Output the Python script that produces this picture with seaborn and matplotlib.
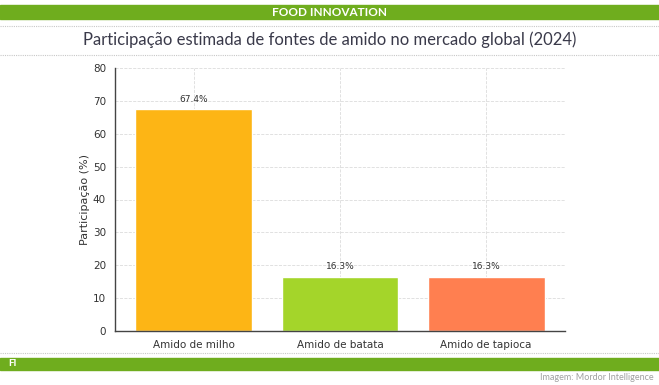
import pandas as pd
import seaborn as sns
import matplotlib.pyplot as plt
from matplotlib.patches import Rectangle
from matplotlib.lines import Line2D

# data
fontes = ["Amido de milho", "Amido de batata", "Amido de tapioca"]
participacao = [67.4, 16.3, 16.3]
cores = ["#FDB515", "#A4D52A", "#FF7F50"]

df = pd.DataFrame({"fonte": fontes, "participacao": participacao})

sns.set_style("white")
plt.rcParams["font.family"] = ["DejaVu Sans"]

fig = plt.figure(figsize=(6.59, 3.85), dpi=100)
W, H = 659, 385

def fy(y):
    return 1 - y / H

# page header / footer decoration
verde = "#6FAD1E"
fig.patches.append(Rectangle((0, fy(19)), 1, 14 / H, transform=fig.transFigure,
                             color=verde, zorder=0))
fig.text(0.5, fy(12), "FOOD INNOVATION", ha="center", va="center", color="white",
         fontsize=8.5, family=["Lato", "DejaVu Sans"], weight="bold")
fig.patches.append(Rectangle((0, fy(370)), 1, 12 / H, transform=fig.transFigure,
                             color=verde, zorder=0))
fig.text(8 / W, fy(364), "FI", ha="left", va="center", color="white",
         fontsize=7, family=["Lato", "DejaVu Sans"], weight="bold")
for y in [25.5, 54.5, 352.5]:
    fig.lines.append(Line2D([0, 1], [fy(y), fy(y)], transform=fig.transFigure,
                            color="#c8c8c8", lw=0.8, ls=(0, (1, 1))))
fig.text(0.5, fy(40), "Participação estimada de fontes de amido no mercado global (2024)",
         ha="center", va="center", color="#3a3a4a", fontsize=12,
         family=["Lato", "DejaVu Sans"])
fig.text(654 / W, fy(378), "Imagem: Mordor Intelligence", ha="right", va="center",
         color="#a0a0a0", fontsize=6.5, family=["Lato", "DejaVu Sans"])

# chart area
ax = fig.add_axes([115 / W, fy(331), 450 / W, 263 / H])
sns.barplot(data=df, x="fonte", y="participacao", hue="fonte", palette=cores,
            legend=False, width=0.8, saturation=1, ax=ax, zorder=2)

for i, v in enumerate(participacao):
    ax.text(i, v + 1.8, f"{v}%", ha="center", va="bottom", fontsize=6.5,
            color="#333333", family="DejaVu Sans")

ax.set_ylim(0, 80)
ax.set_xlim(-0.54, 2.54)
ax.set_xlabel("")
ax.set_ylabel("Participação (%)", fontsize=8, color="#333333", family="DejaVu Sans",
              labelpad=2)
ax.tick_params(axis="both", labelsize=7.5, colors="#333333", length=3, width=0.8)
for lab in ax.get_xticklabels() + ax.get_yticklabels():
    lab.set_family("DejaVu Sans")
ax.grid(True, ls="--", color="#dcdcdc", lw=0.6, zorder=0)
ax.set_axisbelow(True)
for s in ["top", "right"]:
    ax.spines[s].set_visible(False)
for s in ["left", "bottom"]:
    ax.spines[s].set_color("#444444")
    ax.spines[s].set_linewidth(1.0)

fig.savefig("out.png", dpi=100)
